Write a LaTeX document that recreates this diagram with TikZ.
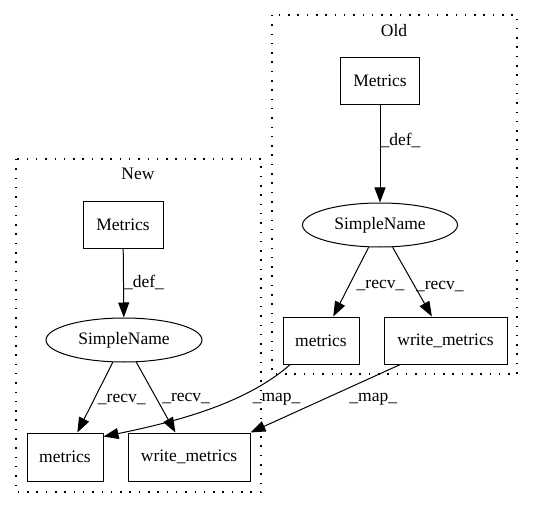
\documentclass[tikz,border=0pt]{standalone}
\usepackage{fontspec}
\setmainfont{Liberation Serif}
\usetikzlibrary{arrows.meta,shapes.geometric}
\begin{document}
\begin{tikzpicture}[x=1pt,y=-1pt,
  txt/.style={font=\fontsize{17.5}{20}\selectfont},
  box/.style={txt, draw, line width=1pt, rectangle, minimum width=#1, minimum height=47pt, inner sep=0pt},
  ell/.style={txt, draw, line width=1pt, ellipse, minimum width=155pt, minimum height=44pt, inner sep=0pt},
  lbl/.style={txt, inner sep=0pt},
  conn/.style={line width=1pt, -{Triangle[length=15pt,width=11pt]}},
  cluster/.style={line width=1.4pt, dash pattern=on 1.5pt off 7.8pt},
]
\useasboundingbox (0,0) rectangle (533,508);

% clusters
\draw[cluster] (272,15) rectangle (517,374);
\node[lbl] (oldlbl) at (394,31) {Old};
\draw[cluster] (16,159) rectangle (261,492);
\node[lbl] (newlbl) at (138,174) {New};

% Old nodes
\node[box=79pt] (oM) at (380,81) {Metrics};
\node[ell] (oS) at (380,225) {SimpleName};
\node[box=76pt] (om) at (321,340.5) {metrics};
\node[box=123pt] (ow) at (445.5,340.5) {write\_metrics};

% New nodes
\node[box=80pt] (nM) at (123,225) {Metrics};
\node[ell, minimum width=156pt] (nS) at (124,340) {SimpleName};
\node[box=76pt, minimum height=48pt] (nm) at (65,457) {metrics};
\node[box=122pt, minimum height=48pt] (nw) at (189,457) {write\_metrics};

% Old edges
\draw[conn] (oM) -- node[lbl, pos=0.36, anchor=west] (l1) {\_def\_} (oS);
\draw[conn] (oS) -- node[lbl, pos=0.55, anchor=west, xshift=7pt] (l2) {\_recv\_} (om);
\draw[conn] (oS) -- node[lbl, pos=0.56, anchor=west, xshift=1pt] (l3) {\_recv\_} (ow);

% New edges
\draw[conn] (nM) -- node[lbl, pos=0.49, anchor=west] (l4) {\_def\_} (nS);
\draw[conn] (nS) -- node[lbl, pos=0.53, anchor=west, xshift=3.5pt] (l5) {\_recv\_} (nm);
\draw[conn] (nS) -- node[lbl, pos=0.51, anchor=west, xshift=5.5pt] (l6) {\_recv\_} (nw);

% map edges
\draw[conn] (om.218) .. controls (252,398) and (195,418) .. node[lbl, pos=0.3, anchor=west, xshift=2pt, yshift=-8pt] (l7) {\_map\_} (nm.28);
\draw[conn] (ow.208) -- node[lbl, pos=0.51, anchor=west, xshift=25pt] (l8) {\_map\_} (nw.north east);
\end{tikzpicture}
\end{document}
